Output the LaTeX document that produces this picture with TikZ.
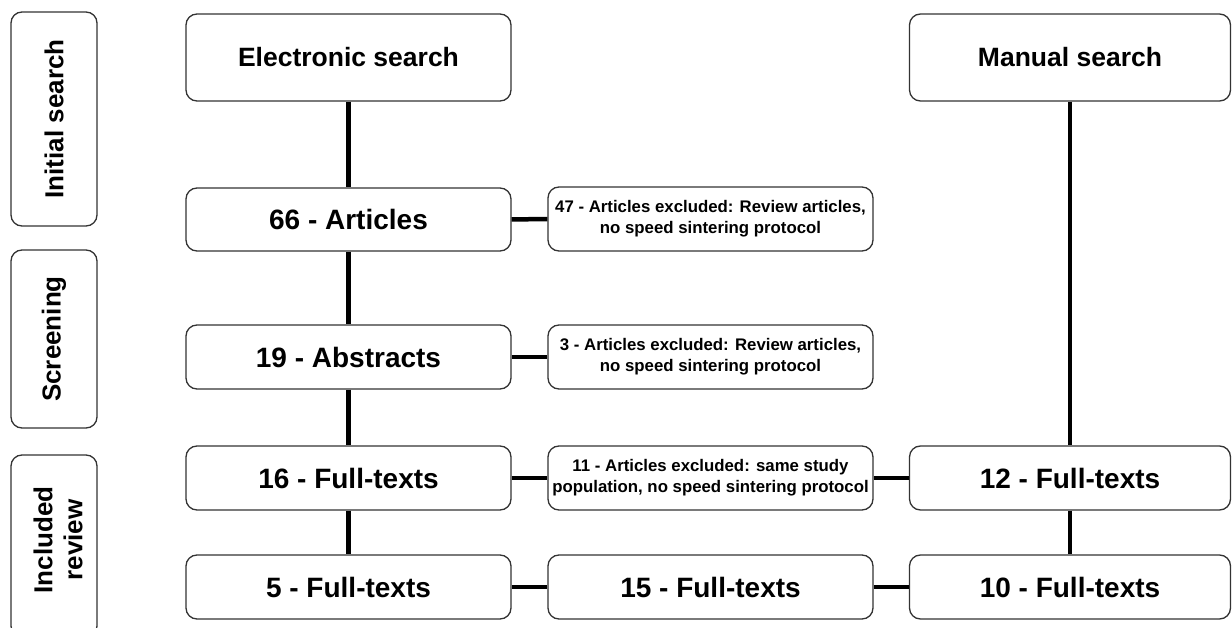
\documentclass[tikz,border=0pt]{standalone}
\usepackage{fontspec}
\setmainfont{Liberation Sans}
\begin{document}
\begin{tikzpicture}[x=1pt,y=-1pt,
  box/.style={draw=black!80, line width=1.3pt, rounded corners=11pt, minimum width=325pt, minimum height=64pt, inner sep=0pt, align=center, font=\fontsize{28}{32}\selectfont\bfseries},
  head/.style={box, font=\fontsize{26.5}{30}\selectfont\bfseries},
  small/.style={box, font=\fontsize{16.8}{21}\selectfont\bfseries},
  stage/.style={draw=black!80, line width=1.3pt, rounded corners=11pt, minimum width=86pt, inner sep=0pt, align=center},
  stagetext/.style={rotate=90, align=center, font=\fontsize{26}{30}\selectfont\bfseries},
  conn/.style={line width=4.5pt, black}]
\useasboundingbox (0,0) rectangle (1232,628);
\fill[white] (0,0) rectangle (1232,628);
% stage boxes
\node[stage, minimum height=214pt] (s1) at (54,119) {};
\node[stagetext] (s1t) at (s1.center) {Initial search};
\node[stage, minimum height=178pt] (s2) at (54,339) {};
\node[stagetext] (s2t) at (s2.center) {Screening};
\node[stage, minimum height=182pt] (s3) at (54,546) {};
\node[stagetext] (s3t) at (58,540) {Included\\review};
% main boxes
\node[head, minimum height=87pt] (es) at (348.5,57.5) {Electronic search};
\node[head, minimum height=87pt, minimum width=321pt] (ms) at (1070,57.5) {Manual search};
\node[box, minimum height=63pt] (a66) at (348.5,219.5) {66 - Articles};
\node[small] (x47) at (710.5,219) {47 - Articles excluded: Review articles,\\no speed sintering protocol};
\node[box] (a19) at (348.5,357) {19 - Abstracts};
\node[small] (x3) at (710.5,357) {3 - Articles excluded: Review articles,\\no speed sintering protocol};
\node[box] (f16) at (348.5,478) {16 - Full-texts};
\node[small] (x11) at (710.5,478) {11 - Articles excluded: same study\\population, no speed sintering protocol};
\node[box, minimum width=321pt] (f12) at (1070,478) {12 - Full-texts};
\node[box] (f5) at (348.5,587) {5 - Full-texts};
\node[box] (f15) at (710.5,587) {15 - Full-texts};
\node[box, minimum width=321pt] (f10) at (1070,587) {10 - Full-texts};
% connectors
\draw[conn] (es) -- (a66);
\draw[conn] (a66) -- (a19);
\draw[conn] (a19) -- (f16);
\draw[conn] (f16) -- (f5);
\draw[conn] (ms) -- (f12);
\draw[conn] (f12) -- (f10);
\draw[conn] (a66) -- (x47);
\draw[conn] (a19) -- (x3);
\draw[conn] (f16) -- (x11);
\draw[conn] (x11) -- (f12);
\draw[conn] (f5) -- (f15);
\draw[conn] (f15) -- (f10);
\end{tikzpicture}
\end{document}
